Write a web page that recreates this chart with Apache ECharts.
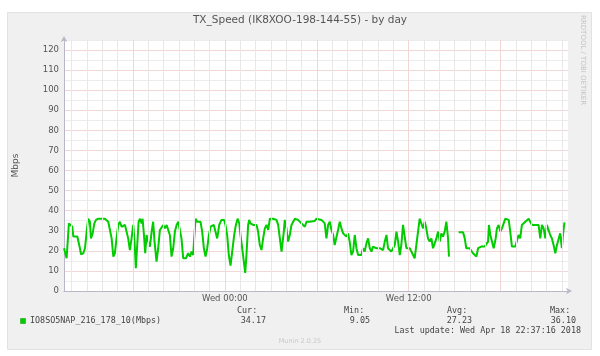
<!DOCTYPE html>
<html>
<head>
<meta charset="utf-8">
<script src="https://cdn.jsdelivr.net/npm/echarts@6/dist/echarts.min.js"></script>
<style>
html,body{margin:0;padding:0;background:#fff;}
#c{width:600px;height:356px;}
</style>
</head>
<body>
<div id="c"></div>
<script>
// ---- data (x = hours relative to Wed 00:00) ----
const times = [
-10.50,-10.33,-10.18,-10.05,-9.96,-9.89,-9.78,-9.63,-9.57,-9.46,-9.39,-9.24,-9.13,-9.02,-8.92,-8.81,-8.74,-8.63,-8.52,-8.41,
-8.26,-8.15,-8.04,-7.94,-7.83,-7.72,-7.61,-7.50,-7.39,-7.28,-7.18,-7.07,-6.96,-6.85,-6.74,-6.63,-6.52,-6.42,-6.31,-6.20,
-6.09,-5.98,-5.89,-5.81,-5.72,-5.63,-5.54,-5.44,-5.37,-5.28,-5.20,-5.11,-5.00,-4.89,-4.78,-4.68,-4.59,-4.46,-4.35,-4.24,
-4.13,-4.02,-3.91,-3.80,-3.70,-3.59,-3.48,-3.37,-3.26,-3.15,-3.04,-2.94,-2.83,-2.72,-2.54,-2.39,
-2.28,-2.17,-2.07,-2.00,-1.91,-1.80,-1.70,-1.59,-1.48,-1.37,-1.26,-1.15,-1.04,-0.93,-0.83,-0.72,-0.61,-0.50,-0.43,-0.37,
-0.22,-0.04,0.04,0.15,0.26,0.37,0.48,0.61,0.72,0.83,0.94,1.02,1.13,1.24,1.33,1.41,1.52,1.59,1.67,1.74,
1.85,1.96,2.07,2.17,2.28,2.39,2.50,2.61,2.72,2.83,2.94,3.04,3.15,3.26,3.37,3.48,3.59,3.70,3.76,3.85,
3.91,4.02,4.13,4.24,4.35,4.46,4.57,4.67,4.78,4.89,5.00,5.11,5.22,5.33,5.44,5.54,5.65,5.87,
5.98,6.09,6.31,6.41,6.52,6.63,6.74,6.85,6.96,7.07,7.17,7.28,7.39,7.50,7.61,7.72,7.83,7.93,8.04,8.15,
8.26,8.37,8.48,8.59,8.70,8.81,8.91,9.02,9.13,9.24,9.35,9.46,9.57,9.67,9.78,9.89,10.00,10.11,10.22,10.33,
10.44,10.55,10.65,10.76,10.87,10.98,11.09,11.20,11.31,11.42,11.52,11.63,11.74,11.85,11.96,12.07,12.18,12.28,12.39,12.50,
12.61,12.72,12.83,12.94,13.05,13.15,13.26,13.37,13.48,13.59,
13.70,13.81,13.92,14.03,14.13,14.24,14.35,14.46,14.57,14.63,14.90,
15.26,15.55,15.66,15.76,15.87,15.98,16.09,16.20,16.31,16.42,16.53,16.74,16.96,17.07,17.18,17.24,17.33,17.44,17.55,17.68,
17.76,17.87,17.98,18.09,18.20,18.31,18.42,18.53,18.63,18.74,18.85,18.96,19.07,19.17,19.28,19.39,19.50,19.61,19.72,19.83,
19.94,20.05,20.15,20.26,20.37,20.48,20.59,20.70,20.81,20.92,21.02,21.13,21.24,21.35,21.46,21.57,21.68,21.78,21.89,22.00,
22.07,22.17
];
const speeds = [
21.3,16.3,33.7,34.5,32.0,27.1,27.6,27.1,26.2,21.3,18.3,18.8,21.3,29.6,36.0,34.5,26.2,28.7,33.7,35.4,
36.0,35.4,36.0,35.4,36.0,35.4,34.5,33.7,26.2,17.1,18.8,26.2,32.9,34.5,32.0,31.2,32.9,32.0,26.2,20.4,
26.2,32.9,23.7,11.3,22.9,34.5,36.0,33.7,36.0,27.9,18.8,27.9,24.6,22.1,29.6,34.5,24.6,14.6,21.3,30.4,
31.2,32.9,31.2,32.9,32.0,27.9,17.1,21.3,29.6,32.9,34.5,30.4,26.2,16.3,16.3,18.8,
17.1,19.6,17.9,26.2,36.0,34.5,35.4,34.5,29.6,21.3,17.1,21.3,27.9,32.0,32.9,32.9,32.0,26.2,29.6,32.9,
35.4,35.4,32.9,27.9,17.9,12.6,19.6,27.9,32.9,36.0,33.7,27.9,21.3,14.6,9.05,17.9,32.9,35.4,33.7,34.5,
32.9,32.9,32.9,29.6,22.9,20.4,26.2,31.2,32.9,30.4,36.0,36.0,36.0,35.9,35.4,32.9,26.2,19.6,18.8,29.6,
35.4,31.2,24.6,27.9,32.9,32.0,36.0,36.0,35.4,34.5,33.7,32.9,32.0,34.5,35.4,34.5,34.5,34.9,
36.0,35.4,35.4,35.4,33.7,26.2,32.9,34.5,30.4,27.9,22.9,22.1,30.4,34.5,31.2,28.7,29.6,27.1,28.7,24.6,
17.9,19.6,27.9,21.3,17.9,17.1,17.9,21.3,19.6,23.7,26.2,21.3,19.6,22.1,21.3,21.3,22.1,21.3,22.1,20.4,
24.6,27.9,21.3,22.1,19.6,21.3,22.9,29.6,24.6,17.9,22.9,32.9,27.1,21.3,20.4,21.3,19.6,18.8,16.3,22.9,
29.6,36.0,35.4,31.2,34.5,31.2,26.2,24.6,26.2,21.3,
22.1,26.2,29.6,24.6,28.7,27.1,29.6,34.5,26.2,17.1,null,
29.2,29.2,26.2,21.3,21.3,21.3,21.3,18.8,19.6,17.1,21.3,22.1,22.1,22.1,24.6,32.9,27.9,27.1,21.3,26.2,
31.2,32.9,29.6,31.2,33.7,36.0,35.4,35.4,29.6,22.1,22.1,22.1,22.9,27.9,26.2,32.9,32.0,34.5,33.7,36.0,
36.1,32.9,32.9,32.9,32.9,32.9,26.2,32.9,31.2,26.2,32.9,32.0,27.9,26.2,22.9,18.8,22.9,22.9,28.7,21.3,
27.9,34.17
];
const hourGrid = [-10,-9,-8,-7,-6,-5,-4,-3,-2,-1,0,1,2,3,4,5,6,7,8,9,10,11,12,13,14,15,16,17,18,19,20,21,22];
const majorHours = [-6,0,6,12,18];
const xLabelValues = [0, 12];
const xLabelTexts = {0: 'Wed 00:00', 12: 'Wed 12:00'};
const yTickLabels = [0,10,20,30,40,50,60,70,80,90,100,110,120];
const titleText = 'TX_Speed (IK8XOO-198-144-55) - by day';
const seriesName = 'IO8SO5NAP_216_178_10(Mbps)';
const statHeads = ['Cur:', 'Min:', 'Avg:', 'Max:'];
const statValues = ['34.17', '9.05', '27.23', '36.10'];
const lastUpdate = 'Last update: Wed Apr 18 22:37:16 2018';
const footer = 'Munin 2.0.25';
const sideText = 'RRDTOOL / TOBI OETIKER';

const chart = echarts.init(document.getElementById('c'), null, {renderer: 'canvas'});
const data = times.map((t, i) => [t, speeds[i]]);
const MONO = '"DejaVu Sans Mono", monospace';
const SANS = '"DejaVu Sans", sans-serif';

const headX = [237, 344, 447, 550];
const valRight = [266, 370, 472, 576];
const graphics = [
  {type: 'rect', z: -10, shape: {x: 7.5, y: 12.5, width: 584, height: 337}, style: {fill: '#f0f0f0', stroke: '#e2e2e2', lineWidth: 1}},
  {type: 'text', left: 'center', top: 15, style: {text: titleText, font: '10.5px ' + SANS, fill: '#555'}},
  {type: 'text', x: 583, y: 15, rotation: -Math.PI / 2, style: {text: sideText, font: '7px ' + SANS, fill: '#c4c4c4', textAlign: 'left', textVerticalAlign: 'middle'}},
  {type: 'rect', shape: {x: 20.5, y: 318.5, width: 5, height: 5}, style: {fill: '#00cc00', stroke: '#009900', lineWidth: 0.5}},
  {type: 'text', x: 30, y: 321, style: {text: seriesName, font: '8.4px ' + MONO, fill: '#444', textVerticalAlign: 'middle'}},
  {type: 'text', x: 581, y: 331, style: {text: lastUpdate, font: '8.4px ' + MONO, fill: '#444', textAlign: 'right', textVerticalAlign: 'middle'}},
  {type: 'text', x: 300, y: 341, style: {text: footer, font: '6.5px ' + SANS, fill: '#c8c8c8', textAlign: 'center', textVerticalAlign: 'middle'}}
];
statHeads.forEach((h, i) => {
  graphics.push({type: 'text', x: headX[i], y: 311, style: {text: h, font: '8.4px ' + MONO, fill: '#444', textVerticalAlign: 'middle'}});
  graphics.push({type: 'text', x: valRight[i], y: 321, style: {text: statValues[i], font: '8.4px ' + MONO, fill: '#444', textAlign: 'right', textVerticalAlign: 'middle'}});
});

const gridLines = hourGrid.map(h => ({
  xAxis: h,
  lineStyle: majorHours.includes(h)
    ? {color: '#f3d6d6', width: 1, type: 'solid'}
    : {color: '#e8e8e8', width: 1, type: 'solid'}
}));

chart.setOption({
  animation: false,
  backgroundColor: '#ffffff',
  textStyle: {fontFamily: SANS},
  graphic: graphics,
  grid: {left: 64, right: 32, top: 40, bottom: 65, show: true, backgroundColor: '#ffffff', borderWidth: 0},
  xAxis: {
    type: 'value', min: -10.5, max: 22.4,
    axisLine: {show: true, onZero: false, lineStyle: {color: '#b8b8c8', width: 1}, symbol: ['none', 'arrow'], symbolSize: [5, 6], symbolOffset: [0, 4]},
    axisTick: {show: false},
    splitLine: {show: false},
    axisLabel: {customValues: xLabelValues, formatter: v => xLabelTexts[v] || '', color: '#555', fontSize: 8.5, margin: 3, fontFamily: SANS}
  },
  yAxis: {
    type: 'value', min: 0, max: 125, interval: 5,
    name: 'Mbps', nameLocation: 'middle', nameRotate: 90, nameGap: 44,
    nameTextStyle: {color: '#555', fontSize: 9, fontFamily: SANS},
    axisLine: {show: true, onZero: false, lineStyle: {color: '#b8b8c8', width: 1}, symbol: ['none', 'arrow'], symbolSize: [5, 6], symbolOffset: [0, 4]},
    axisTick: {show: false},
    axisLabel: {formatter: v => (yTickLabels.includes(v) ? String(v) : ''), color: '#555', fontSize: 8.5, margin: 5, fontFamily: SANS},
    splitLine: {show: true, lineStyle: {color: ['#f3d6d6', '#ececec'], width: 1}}
  },
  series: [
    {
      type: 'line', data: [], z: 1, silent: true,
      markLine: {silent: true, symbol: 'none', label: {show: false}, animation: false, data: gridLines}
    },
    {
      name: seriesName, type: 'line', data: data, z: 3,
      showSymbol: false, connectNulls: false,
      lineStyle: {color: '#00cc00', width: 2},
      itemStyle: {color: '#00cc00'}
    }
  ]
});
</script>
</body>
</html>
